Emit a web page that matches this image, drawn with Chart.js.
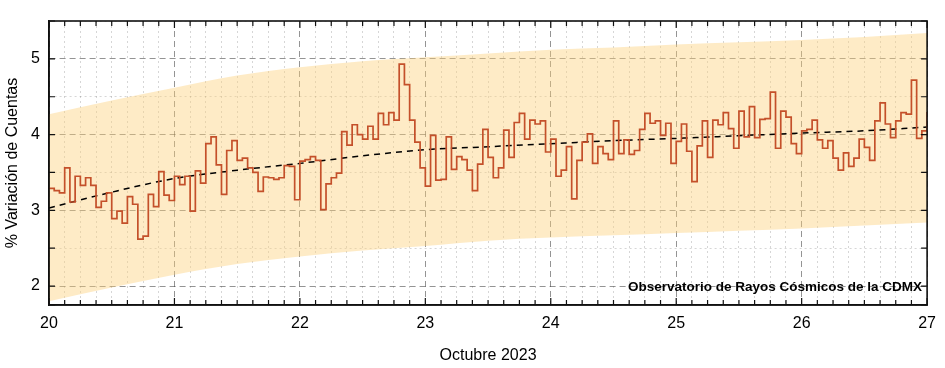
<!DOCTYPE html>
<html>
<head>
<meta charset="utf-8">
<script src="https://cdn.jsdelivr.net/npm/chart.js@4.4.1/dist/chart.umd.min.js"></script>
<style>
  html, body { margin: 0; padding: 0; background: #fff; }
  #wrap { width: 945px; height: 368px; position: relative; }
</style>
</head>
<body>
<div id="wrap"><canvas id="cuentas"></canvas></div>
<script>
(function () {
    'use strict';

    var FONT = "'Liberation Sans', Arial, sans-serif";

    // hourly bins starting 20 Oct 00:00 (last value closes the step at day 27)
    var START_DAY = 20;
    var HOURLY = [
        3.29, 3.26, 3.23, 3.56, 3.11, 3.45, 3.33, 3.43, 3.33, 3.04, 3.12, 3.23,
        2.89, 2.99, 2.83, 3.18, 3.08, 2.62, 2.66, 3.21, 3.05, 3.51, 3.20, 3.13,
        3.45, 3.34, 3.45, 2.99, 3.52, 3.36, 3.88, 3.97, 3.60, 3.21, 3.79, 3.92,
        3.66, 3.69, 3.56, 3.50, 3.25, 3.44, 3.43, 3.41, 3.43, 3.59, 3.58, 3.14,
        3.65, 3.67, 3.71, 3.66, 3.01, 3.35, 3.43, 3.49, 4.04, 3.86, 4.13, 4.00,
        3.94, 4.11, 3.94, 4.28, 4.13, 4.29, 4.19, 4.93, 4.66, 4.19, 3.90, 3.56,
        3.32, 3.99, 3.40, 3.41, 3.97, 3.54, 3.71, 3.67, 3.53, 3.26, 3.61, 4.07,
        3.70, 3.43, 3.56, 4.06, 3.70, 4.16, 4.28, 3.94, 4.19, 4.14, 4.18, 3.77,
        3.94, 3.45, 3.53, 3.84, 3.15, 3.66, 3.90, 4.01, 3.62, 3.84, 3.75, 3.67,
        4.18, 3.75, 3.93, 3.74, 3.79, 4.07, 4.28, 4.15, 4.18, 3.99, 4.15, 3.62,
        3.91, 4.14, 3.78, 3.38, 3.85, 4.18, 3.70, 4.19, 4.13, 4.29, 4.08, 3.82,
        4.31, 3.97, 4.37, 3.96, 4.20, 4.21, 4.56, 3.82, 4.31, 4.23, 3.88, 3.75,
        4.05, 4.07, 4.19, 3.93, 3.82, 3.92, 3.69, 3.53, 3.76, 3.58, 3.69, 3.94,
        3.83, 3.66, 4.18, 4.42, 4.14, 3.96, 4.18, 4.29, 4.27, 4.72, 3.95, 4.05,
        4.30
    ];

    // trend and its band, read every half day
    var TREND_DAYS = [20, 20.5, 21, 21.5, 22, 22.5, 23, 23.5, 24, 24.5, 25, 25.5, 26, 26.5, 27];
    var TREND      = [3.03, 3.24, 3.42, 3.53, 3.62, 3.72, 3.80, 3.84, 3.88, 3.92, 3.95, 3.985, 4.02, 4.05, 4.10];
    var BAND_HIGH  = [4.27, 4.45, 4.62, 4.78, 4.89, 4.97, 5.02, 5.07, 5.12, 5.15, 5.19, 5.22, 5.25, 5.29, 5.34];
    var BAND_LOW   = [1.80, 1.98, 2.15, 2.29, 2.39, 2.47, 2.53, 2.60, 2.64, 2.67, 2.70, 2.73, 2.76, 2.80, 2.84];

    var X_MIN = 20, X_MAX = 27, X_STEP = 0.125;
    var Y_MIN = 1.75, Y_MAX = 5.5, Y_STEP = 0.5;

    var NOTE = 'Observatorio de Rayos Cósmicos de la CDMX';
    var X_TITLE = 'Octubre 2023';
    var Y_TITLE = '% Variación de Cuentas';

    function pts(xs, ys) {
        return xs.map(function (x, i) { return { x: x, y: ys[i] }; });
    }

    var hourlyPts = HOURLY.map(function (v, i) {
        return { x: START_DAY + i / 24, y: v };
    });

    function isMajor(v) { return Math.abs(v - Math.round(v)) < 1e-6; }

    function gridColor(ctx) {
        if (!ctx.tick) return 'rgba(0,0,0,0)';
        return isMajor(ctx.tick.value) ? 'rgba(60,60,60,0.55)' : 'rgba(0,0,0,0.16)';
    }
    function gridDash(ctx) {
        if (!ctx.tick) return [];
        return isMajor(ctx.tick.value) ? [6, 4] : [2, 3];
    }

    // frame, inward ticks and the observatory note
    var framePlugin = {
        id: 'frame',
        afterDraw: function (chart) {
            var a = chart.chartArea;
            var c = chart.ctx;
            var xs = chart.scales.x, ys = chart.scales.y;
            c.save();
            c.strokeStyle = '#111';
            c.lineWidth = 1.2;
            c.beginPath();
            xs.ticks.forEach(function (t) {
                var px = xs.getPixelForValue(t.value);
                var len = isMajor(t.value) ? 7 : 5;
                c.moveTo(px, a.bottom); c.lineTo(px, a.bottom - len);
                c.moveTo(px, a.top); c.lineTo(px, a.top + len);
            });
            ys.ticks.forEach(function (t) {
                var py = ys.getPixelForValue(t.value);
                c.moveTo(a.left, py); c.lineTo(a.left + 6, py);
                c.moveTo(a.right, py); c.lineTo(a.right - 6, py);
            });
            c.stroke();
            c.lineWidth = 1.6;
            c.strokeRect(a.left, a.top, a.right - a.left, a.bottom - a.top);

            c.font = 'bold 13.5px ' + FONT;
            c.fillStyle = '#000';
            c.textAlign = 'right';
            c.textBaseline = 'middle';
            c.fillText(NOTE, xs.getPixelForValue(X_MAX) - 5, ys.getPixelForValue(2) + 1);
            c.restore();
        }
    };

    new Chart(document.getElementById('cuentas'), {
        type: 'line',
        data: {
            datasets: [
                {
                    data: hourlyPts,
                    stepped: 'before',
                    borderColor: 'rgb(196,80,42)',
                    borderWidth: 1.7,
                    pointRadius: 0,
                    fill: false
                },
                {
                    data: pts(TREND_DAYS, TREND),
                    borderColor: '#000',
                    borderWidth: 1.5,
                    borderDash: [6, 5],
                    pointRadius: 0,
                    cubicInterpolationMode: 'monotone',
                    fill: false
                },
                {
                    data: pts(TREND_DAYS, BAND_LOW),
                    borderWidth: 0,
                    borderColor: 'rgba(0,0,0,0)',
                    pointRadius: 0,
                    cubicInterpolationMode: 'monotone',
                    fill: false
                },
                {
                    data: pts(TREND_DAYS, BAND_HIGH),
                    borderWidth: 0,
                    borderColor: 'rgba(0,0,0,0)',
                    backgroundColor: 'rgba(252,208,118,0.42)',
                    pointRadius: 0,
                    cubicInterpolationMode: 'monotone',
                    fill: '-1'
                }
            ]
        },
        options: {
            responsive: true,
            maintainAspectRatio: false,
            animation: false,
            events: [],
            layout: { padding: { top: 21, right: 12, left: 0, bottom: 0 } },
            plugins: {
                legend: { display: false },
                tooltip: { enabled: false }
            },
            scales: {
                x: {
                    type: 'linear',
                    min: X_MIN,
                    max: X_MAX,
                    afterFit: function (s) { s.height = 63; },
                    ticks: {
                        stepSize: X_STEP,
                        autoSkip: false,
                        maxRotation: 0,
                        padding: 9,
                        color: '#000',
                        font: { family: FONT, size: 16 },
                        callback: function (v) { return isMajor(v) ? String(Math.round(v)) : ''; }
                    },
                    grid: { color: gridColor, lineWidth: 1, drawTicks: false },
                    border: { display: true, color: '#111', width: 1.6, dash: gridDash },
                    title: {
                        display: true,
                        text: X_TITLE,
                        color: '#000',
                        font: { family: FONT, size: 16 },
                        padding: { top: 0, bottom: 3 }
                    }
                },
                y: {
                    min: Y_MIN,
                    max: Y_MAX,
                    afterFit: function (s) { s.width = 49; },
                    ticks: {
                        stepSize: Y_STEP,
                        padding: 9,
                        color: '#000',
                        font: { family: FONT, size: 16 },
                        callback: function (v) { return isMajor(v) ? String(Math.round(v)) : ''; }
                    },
                    grid: { color: gridColor, lineWidth: 1, drawTicks: false },
                    border: { display: true, color: '#111', width: 1.6, dash: gridDash },
                    title: {
                        display: true,
                        text: Y_TITLE,
                        color: '#000',
                        font: { family: FONT, size: 16 },
                        padding: { top: 3, bottom: 0 }
                    }
                }
            }
        },
        plugins: [framePlugin]
    });
})();
</script>
</body>
</html>
